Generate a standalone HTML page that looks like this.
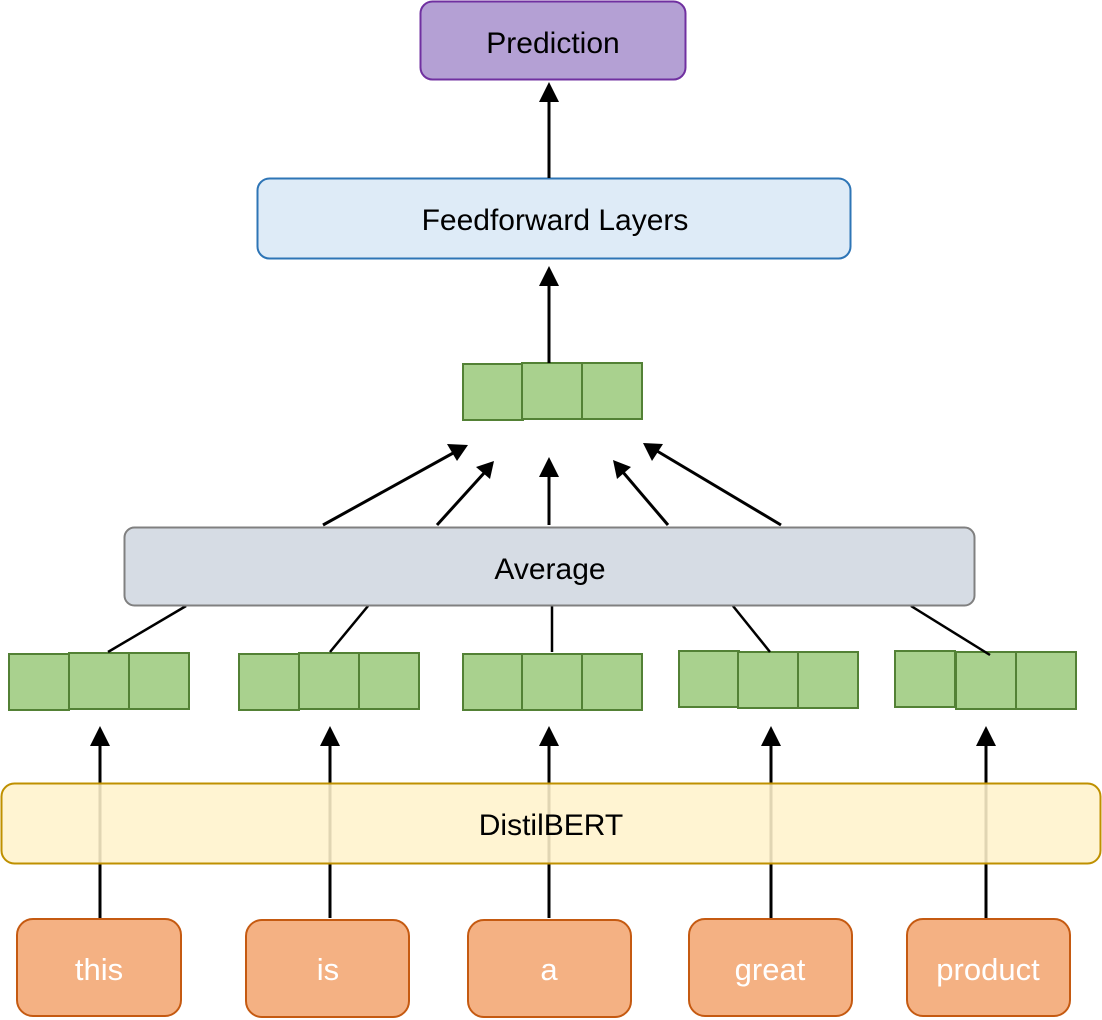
<!DOCTYPE html>
<html><head><meta charset="utf-8"><style>
html,body{margin:0;padding:0;background:#fff;}
svg{display:block;}
text{font-family:"Liberation Sans",sans-serif;}
</style></head><body>
<svg width="1102" height="1020" viewBox="0 0 1102 1020" xmlns="http://www.w3.org/2000/svg">
<g stroke="#000" stroke-width="3" fill="none">
  <line x1="100" y1="918" x2="100" y2="744"/>
  <line x1="330" y1="918" x2="330" y2="744"/>
  <line x1="549" y1="918" x2="549" y2="744"/>
  <line x1="771" y1="918" x2="771" y2="744"/>
  <line x1="986" y1="918" x2="986" y2="744"/>
</g>
<g fill="#000">
  <polygon points="100,726 90,746 110,746"/>
  <polygon points="330,726 320,746 340,746"/>
  <polygon points="549,726 539,746 559,746"/>
  <polygon points="771,726 761,746 781,746"/>
  <polygon points="986,726 976,746 996,746"/>
</g>
<rect x="1.5" y="783.5" width="1099" height="80" rx="13" fill="#fff2cc" fill-opacity="0.88" stroke="#bf9000" stroke-width="2"/>
<text x="551" y="835" font-size="30" text-anchor="middle" fill="#000">DistilBERT</text>

<g stroke="#c55a11" stroke-width="2" fill="#f4b183">
  <rect x="17" y="919" width="164" height="97" rx="16"/>
  <rect x="246" y="920" width="163" height="97" rx="16"/>
  <rect x="468" y="920" width="163" height="97" rx="16"/>
  <rect x="689" y="919" width="163" height="97" rx="16"/>
  <rect x="907" y="919" width="163" height="97" rx="16"/>
</g>
<g fill="#fff" font-size="31" text-anchor="middle">
  <text x="99" y="980">this</text>
  <text x="328" y="980">is</text>
  <text x="549" y="980">a</text>
  <text x="770" y="980">great</text>
  <text x="988" y="980">product</text>
</g>

<g fill="#a9d18e" stroke="#538135" stroke-width="2">
  <rect x="9" y="654" width="60" height="56"/><rect x="69" y="653" width="60" height="56"/><rect x="129" y="653" width="60" height="56"/>
  <rect x="239" y="654" width="60" height="56"/><rect x="299" y="653" width="60" height="56"/><rect x="359" y="653" width="60" height="56"/>
  <rect x="463" y="654" width="60" height="56"/><rect x="522" y="654" width="60" height="56"/><rect x="582" y="654" width="60" height="56"/>
  <rect x="679" y="651" width="60" height="56"/><rect x="738" y="652" width="60" height="56"/><rect x="798" y="652" width="60" height="56"/>
  <rect x="895" y="651" width="60" height="56"/><rect x="956" y="652" width="60" height="57"/><rect x="1016" y="652" width="60" height="57"/>
</g>

<g stroke="#000" stroke-width="2.5">
  <line x1="108" y1="652" x2="186" y2="606"/>
  <line x1="330" y1="652" x2="368" y2="606"/>
  <line x1="552" y1="652" x2="552" y2="606"/>
  <line x1="770" y1="652" x2="733" y2="606"/>
  <line x1="990" y1="655" x2="911" y2="606"/>
</g>

<rect x="124.5" y="527.5" width="850" height="78" rx="10" fill="#d6dce4" stroke="#808080" stroke-width="2"/>
<text x="550" y="579" font-size="30" text-anchor="middle" fill="#000">Average</text>

<g stroke="#000" stroke-width="3">
  <line x1="323" y1="525" x2="455" y2="452"/>
  <line x1="437" y1="525" x2="485" y2="472"/>
  <line x1="549" y1="525" x2="549" y2="474"/>
  <line x1="668" y1="525" x2="622" y2="471"/>
  <line x1="781" y1="525" x2="657" y2="451"/>
</g>
<g fill="#000">
  <polygon points="468,445 447,444 457,461"/>
  <polygon points="494,461 476,467 490,479"/>
  <polygon points="549,457 539,477 559,477"/>
  <polygon points="613,460 617,479 631,467"/>
  <polygon points="643,443 652,461 663,444"/>
</g>

<g fill="#a9d18e" stroke="#538135" stroke-width="2">
  <rect x="463" y="364" width="60" height="56"/><rect x="522" y="363" width="60" height="56"/><rect x="582" y="363" width="60" height="56"/>
</g>

<line x1="549" y1="363" x2="549" y2="284" stroke="#000" stroke-width="3"/>
<polygon points="549,266 539,286 559,286" fill="#000"/>

<rect x="257.5" y="178.5" width="593" height="80" rx="12" fill="#deebf7" stroke="#2e75b6" stroke-width="2"/>
<text x="555" y="230" font-size="30" text-anchor="middle" fill="#000">Feedforward Layers</text>

<line x1="549" y1="178" x2="549" y2="100" stroke="#000" stroke-width="3"/>
<polygon points="549,82 539,102 559,102" fill="#000"/>

<rect x="420.5" y="1.5" width="265" height="78" rx="12" fill="#b4a0d4" stroke="#7030a0" stroke-width="2"/>
<text x="553" y="53" font-size="30" text-anchor="middle" fill="#000">Prediction</text>
</svg>
</body></html>
